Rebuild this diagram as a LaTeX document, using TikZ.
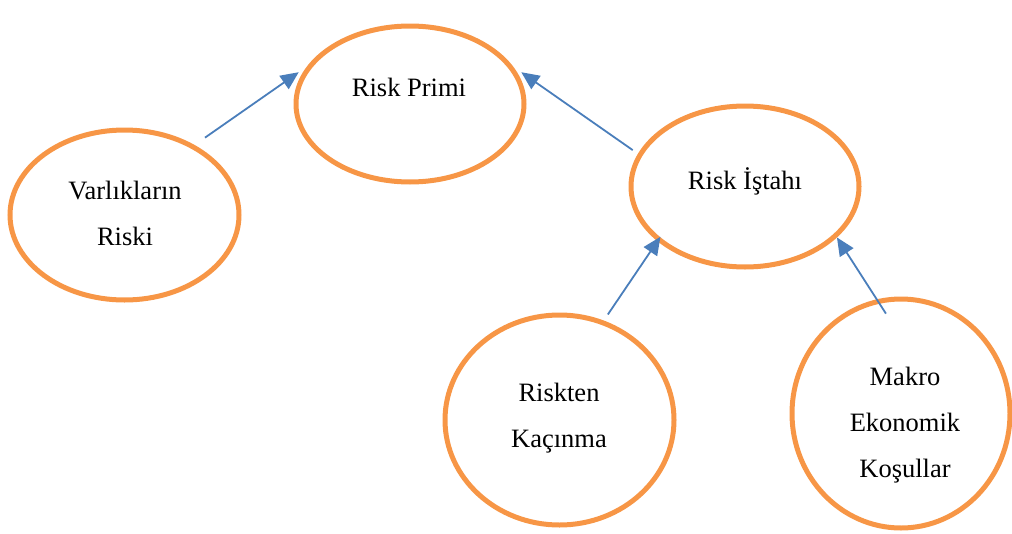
\documentclass[tikz,border=0pt]{standalone}
\usepackage{fontspec}
\setmainfont{Liberation Serif}
\usetikzlibrary{arrows.meta,shapes.geometric}
\definecolor{turuncu}{HTML}{F79646}
\definecolor{mavi}{HTML}{4A7EBB}

\begin{document}
\begin{tikzpicture}[x=1pt,y=-1pt,
		halka/.style={draw=turuncu, line width=5pt, ellipse, inner sep=0pt},
		yazi/.style={font=\fontsize{26.5}{46}\selectfont, align=center, anchor=base},
		okcizgi/.style={draw=mavi, line width=1.8pt, -{Triangle[length=18pt,width=16pt]}}]
	\useasboundingbox (0,0) rectangle (1012,533);

	% halkalar
	\node[halka, minimum width=228, minimum height=156] (primi) at (410,104) {};
	\node[halka, minimum width=229, minimum height=170] (varlik) at (124.5,215) {};
	\node[halka, minimum width=228, minimum height=161] (istah) at (745,186.5) {};
	\node[halka, minimum width=229, minimum height=210] (kacinma) at (559.5,420) {};
	\node[halka, minimum width=218, minimum height=229] (makro) at (901,413.5) {};

	% yazilar (base = son satir)
	\node[yazi] (tprimi) at (409,96) {Risk Primi};
	\node[yazi] (tvarlik) at (125,245) {Varlıkların\\Riski};
	\node[yazi] (tistah) at (745,189) {Risk İştahı};
	\node[yazi] (tkacinma) at (559,447) {Riskten\\Kaçınma};
	\node[yazi] (tmakro) at (905,477) {Makro\\Ekonomik\\Koşullar};

	% oklar
	\draw[okcizgi, shorten <=12.7pt, shorten >=10pt] (varlik.45) -- (primi.160);
	\draw[okcizgi, shorten <=6.4pt, shorten >=10pt] (istah.163) -- (primi.20);
	\draw[okcizgi, shorten <=7.3pt, shorten >=-5.4pt] (kacinma.66) -- (istah.212);
	\draw[okcizgi, shorten <=-17pt] (makro.102) -- (istah.331);
\end{tikzpicture}
\end{document}
